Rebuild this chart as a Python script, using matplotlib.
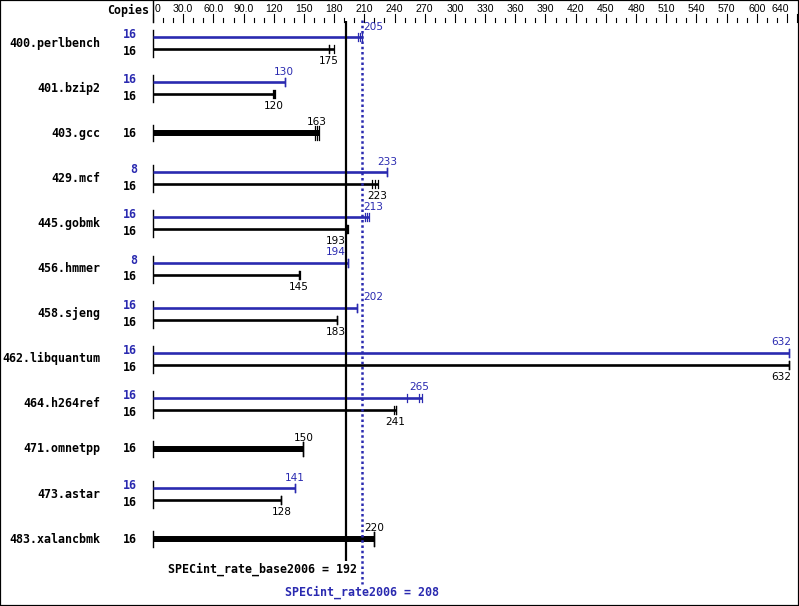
import matplotlib.pyplot as plt
from matplotlib.patches import Rectangle

benchmarks = ['400.perlbench', '401.bzip2', '403.gcc', '429.mcf', '445.gobmk',
              '456.hmmer', '458.sjeng', '462.libquantum', '464.h264ref',
              '471.omnetpp', '473.astar', '483.xalancbmk']
base_copies = [16, 16, 16, 16, 16, 16, 16, 16, 16, 16, 16, 16]
peak_copies = [16, 16, None, 8, 16, 8, 16, 16, 16, None, 16, None]
base_ratio = [175, 120, 163, 223, 193, 145, 183, 632, 241, 150, 128, 220]
peak_ratio = [205, 130, None, 233, 213, 194, 202, 632, 265, None, 141, None]
# individual run ratios (ticks on the bars)
base_runs = [[175, 175, 179.5], [119.7, 120, 121.4], [160.5, 163, 165.2],
             [218, 221, 223.5], [193, 193, 194], [145.5, 145.5, 146],
             [183, 183, 183], [632, 632, 632], [239.8, 241, 241.8],
             [149.5, 149.5, 149.5], [127.3, 127.3, 127.3], [219.6, 219.6, 219.6]]
peak_runs = [[203.3, 205.3, 207.3], [131.3, 131.3, 131.3], None,
             [233, 233, 233], [210.7, 213, 215], [194, 194, 194],
             [202.4, 202.4, 202.4], [632, 632, 632], [252, 264.6, 267.3],
             None, [141, 141, 141], None]
base_overall = 192
peak_overall = 208
xticks = [0, 30, 60, 90, 120, 150, 180, 210, 240, 270, 300, 330, 360, 390,
          420, 450, 480, 510, 540, 570, 600, 640]
xticklabels = ['0', '30.0', '60.0', '90.0', '120', '150', '180', '210', '240',
               '270', '300', '330', '360', '390', '420', '450', '480', '510',
               '540', '570', '600', '640']

W, H = 799, 606
blue = '#2a2ab0'
fig = plt.figure(figsize=(W / 100, H / 100), dpi=100)
ax = fig.add_axes([0, 0, 1, 1])
s = 1.0063  # pixels per unit
x0 = 153
row0, pitch = 43, 45.1
ax.set_xlim(-x0 / s, (W - x0) / s)
ax.set_ylim((H - row0) / pitch, -row0 / pitch)
ax.axis('off')


def py(p):
    return (p - row0) / pitch


def px(p):
    return (p - x0) / s


bold = dict(family='DejaVu Sans Mono', weight='bold', fontsize=8.4)
small = dict(family='DejaVu Sans', fontsize=7.6)

# top scale
ax.text(px(149), py(10), 'Copies', ha='right', va='center', **bold)
ax.plot([0, 0], [py(0), py(22)], color='black', lw=1)
for v in range(0, 641, 10):
    top = 14 if (v % 30 == 0 or v == 640) else 18
    ax.plot([v, v], [py(top), py(22)], color='black', lw=0.8)
for v, lab in zip(xticks, xticklabels):
    xx, ha = v, 'center'
    if v == 0:
        xx, ha = px(155), 'left'
    elif v == 640:
        xx, ha = px(789), 'right'
    ax.text(xx, py(9), lab, ha=ha, va='center', family='Liberation Sans', fontsize=7.6)


def label_x(v):
    half = 9.5
    lo, hi = base_overall - 1, peak_overall + 1.5
    if v - half < hi and v + half > lo:
        if v < (base_overall + peak_overall) / 2:
            return lo - half
        return hi + half
    return min(v, px(791) - half)


for i, name in enumerate(benchmarks):
    ax.text(px(100), i, name, ha='right', va='center', **bold)
    if peak_ratio[i] is None:
        # single combined bar
        runs = base_runs[i]
        ax.plot([0, 0], [i - 8 / pitch, i + 8 / pitch], color='black', lw=1)
        ax.plot([0, max(runs)], [i, i], color='black', lw=4.3, solid_capstyle='butt')
        for r in runs:
            ax.plot([r, r], [i - 7 / pitch, i + 7 / pitch], color='black', lw=0.9)
        ax.text(px(137), i, str(base_copies[i]), ha='right', va='center', **bold)
        ax.text(label_x(base_ratio[i]), i - 11 / pitch, str(base_ratio[i]),
                ha='center', va='center', **small)
        continue
    yb, yk = i - 6 / pitch, i + 6 / pitch
    ax.plot([0, 0], [i - 13 / pitch, i + 14 / pitch], color='black', lw=1)
    ax.plot([0, max(peak_runs[i])], [yb, yb], color=blue, lw=1.9, solid_capstyle='butt')
    ax.plot([0, max(base_runs[i])], [yk, yk], color='black', lw=1.9, solid_capstyle='butt')
    for r in peak_runs[i]:
        ax.plot([r, r], [yb - 4 / pitch, yb + 4 / pitch], color=blue, lw=0.9)
    for r in base_runs[i]:
        ax.plot([r, r], [yk - 4 / pitch, yk + 4 / pitch], color='black', lw=0.9)
    ax.text(px(137), i - 8.5 / pitch, str(peak_copies[i]), ha='right', va='center',
            color=blue, **bold)
    ax.text(px(137), i + 8.5 / pitch, str(base_copies[i]), ha='right', va='center', **bold)
    ax.text(label_x(peak_ratio[i]), yb - 10.5 / pitch, str(peak_ratio[i]),
            ha='center', va='center', color=blue, **small)
    ax.text(label_x(base_ratio[i]), yk + 12 / pitch, str(base_ratio[i]),
            ha='center', va='center', **small)

# overall lines
ax.plot([base_overall, base_overall], [py(21), py(561)], color='black', lw=1.6,
        solid_capstyle='butt')
ax.plot([peak_overall, peak_overall], [py(20), py(584)], color=blue, lw=1.8,
        linestyle=(0, (1, 1.1)))
ax.text(px(168), py(569), 'SPECint_rate_base2006 = %d' % base_overall,
        ha='left', va='center', **bold)
ax.text(peak_overall, py(592), 'SPECint_rate2006 = %d' % peak_overall,
        ha='center', va='center', color=blue, **bold)

fig.patches.append(Rectangle((0, 0), 1, 1, transform=fig.transFigure, fill=False,
                             lw=1.6, ec='black'))
fig.savefig('out.png', dpi=100)
